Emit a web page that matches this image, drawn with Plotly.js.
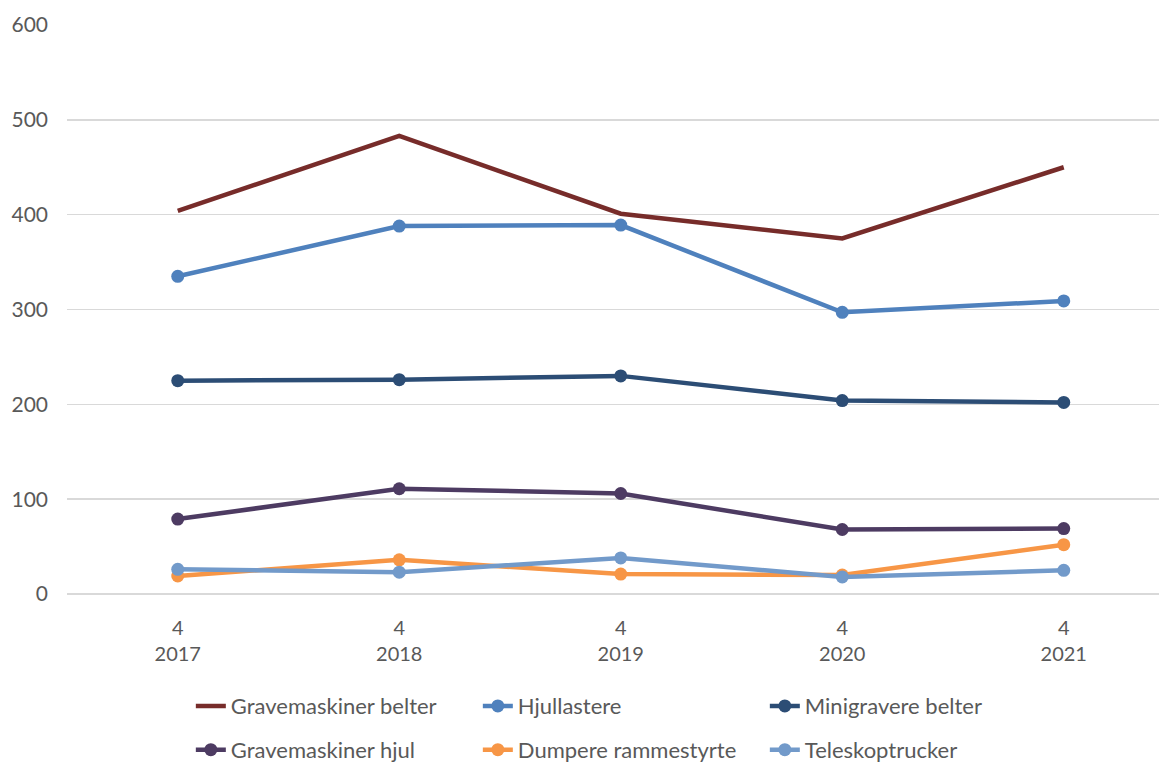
<!DOCTYPE html>
<html>
<head>
<meta charset="utf-8">
<script src="https://cdn.plot.ly/plotly-3.0.1.min.js"></script>
<style>html,body{margin:0;padding:0;background:#fff;}#chart{width:1159px;height:762px;}</style>
</head>
<body>
<div id="chart"></div>
<script>
const years = ["2017", "2018", "2019", "2020", "2021"];
const quarters = ["4", "4", "4", "4", "4"];
const seriesNames = ["Gravemaskiner belter", "Hjullastere", "Minigravere belter", "Gravemaskiner hjul", "Dumpere rammestyrte", "Teleskoptrucker"];
const gravemaskinerBelter = [404, 483, 401, 375, 450];
const hjullastere = [335, 388, 389, 297, 309];
const minigravereBelter = [225, 226, 230, 204, 202];
const gravemaskinerHjul = [79, 111, 106, 68, 69];
const dumpereRammestyrte = [19, 36, 21, 20, 52];
const teleskoptrucker = [26, 23, 38, 18, 25];
const seriesColors = ["#772C2A", "#4F81BD", "#2C4D75", "#4D3B62", "#F79646", "#729ACA"];
const seriesValues = [gravemaskinerBelter, hjullastere, minigravereBelter, gravemaskinerHjul, dumpereRammestyrte, teleskoptrucker];
const hasMarkers = [false, true, true, true, true, true];

const tickLabels = years.map((y, i) => quarters[i] + "<br>" + y);
const FONT = "Lato, 'Open Sans', sans-serif";

const traces = seriesNames.map((name, i) => ({
  type: "scatter",
  mode: hasMarkers[i] ? "lines+markers" : "lines",
  name: name,
  x: years,
  y: seriesValues[i],
  line: {color: seriesColors[i], width: 4.5},
  marker: {color: seriesColors[i], size: 13},
  legend: i < 3 ? "legend" : "legend2",
  cliponaxis: false
}));

const legendBase = {
  orientation: "h",
  xanchor: "left",
  yanchor: "middle",
  entrywidth: 242,
  entrywidthmode: "pixels",
  font: {family: FONT, size: 22, color: "#595959"},
  bgcolor: "rgba(0,0,0,0)",
  traceorder: "normal"
};

const layout = {
  width: 1159,
  height: 762,
  margin: {l: 67, r: 0, t: 25, b: 168, autoexpand: false},
  paper_bgcolor: "#ffffff",
  plot_bgcolor: "#ffffff",
  font: {family: FONT, size: 21, color: "#595959"},
  showlegend: true,
  xaxis: {
    type: "category",
    range: [-0.5, 4.43],
    tickmode: "array",
    tickvals: years,
    ticktext: tickLabels,
    showgrid: false,
    showline: false,
    zeroline: false,
    ticks: "",
    ticklabelstandoff: 20,
    tickfont: {family: FONT, size: 20, color: "#595959"}
  },
  yaxis: {
    range: [0, 600],
    dtick: 100,
    showgrid: true,
    gridcolor: "#D9D9D9",
    gridwidth: 1.5,
    zeroline: true,
    zerolinecolor: "#D9D9D9",
    zerolinewidth: 1.5,
    showline: false,
    ticks: "",
    ticklabelstandoff: 18,
    tickfont: {family: FONT, size: 21, color: "#595959"}
  },
  legend: Object.assign({}, legendBase, {x: 0.1134, y: -0.197}),
  legend2: Object.assign({}, legendBase, {x: 0.1134, y: -0.274})
};

Plotly.newPlot("chart", traces, layout, {displayModeBar: false, staticPlot: true});
</script>
</body>
</html>
